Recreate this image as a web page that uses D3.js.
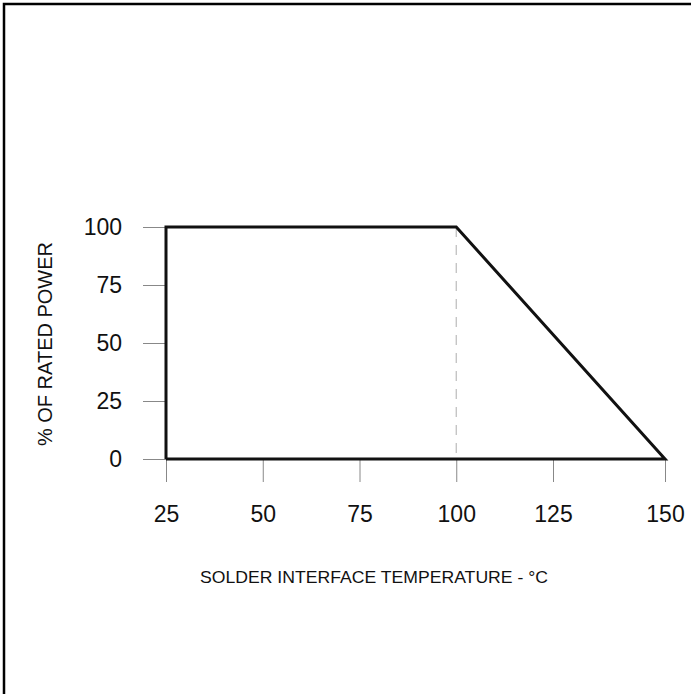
<!DOCTYPE html>
<html>
<head>
<meta charset="utf-8">
<script src="https://cdn.jsdelivr.net/npm/d3@7"></script>
<style>
  body { margin: 0; background: #fff; }
  text { font-family: Arial, "Liberation Sans", sans-serif; }
</style>
</head>
<body>
<div id="vis"></div>
<script>
// derating curve: temperature (°C) vs % of rated power
let temps = [25, 25, 100, 150, 25]
let power = [0, 100, 100, 0, 0]
let kneeTemp = 100
let xTicks = [25, 50, 75, 100, 125, 150]
let yTicks = [0, 25, 50, 75, 100]
let xTitle = 'SOLDER INTERFACE TEMPERATURE - °C'
let yTitle = '% OF RATED POWER'

let width = 691, height = 694

let svg = d3.select('#vis')
  .append('svg')
  .attr('width', width)
  .attr('height', height)

// outer frame (only top/left visible)
svg.append('rect')
  .attr('x', 4).attr('y', 4)
  .attr('width', 720).attr('height', 720)
  .attr('fill', 'none')
  .attr('stroke', '#000')
  .attr('stroke-width', 2.5)

// the original drawing stretches the last interval (125-150) a bit
let xScale = d3.scaleLinear().domain([25, 125, 150]).range([166, 553, 665])
let yScale = d3.scaleLinear().domain([0, 100]).range([459, 227])

// x ticks
let xAxis = svg.append('g')
  .attr('transform', `translate(0,${yScale(0)})`)
  .call(d3.axisBottom(xScale).tickValues(xTicks).tickSize(23).tickPadding(24).tickFormat(d3.format('d')))
xAxis.select('.domain').remove()
xAxis.selectAll('.tick line').attr('stroke', '#888').attr('stroke-width', 1)
xAxis.selectAll('.tick text')
  .attr('font-size', '23px')
  .attr('font-family', 'Arial, "Liberation Sans", sans-serif')
  .attr('fill', '#111')

// y ticks
let yAxis = svg.append('g')
  .attr('transform', `translate(${xScale(25)},0)`)
  .call(d3.axisLeft(yScale).tickValues(yTicks).tickSize(23).tickPadding(21).tickFormat(d3.format('d')))
yAxis.select('.domain').remove()
yAxis.selectAll('.tick line').attr('stroke', '#888').attr('stroke-width', 1)
yAxis.selectAll('.tick text')
  .attr('font-size', '23px')
  .attr('font-family', 'Arial, "Liberation Sans", sans-serif')
  .attr('fill', '#111')

// dashed knee line
svg.append('line')
  .attr('x1', xScale(kneeTemp)).attr('x2', xScale(kneeTemp))
  .attr('y1', yScale(100)).attr('y2', yScale(0))
  .attr('stroke', '#bbb')
  .attr('stroke-width', 1.2)
  .attr('stroke-dasharray', '10,8')

// derating polygon
let line = d3.line()
  .x((d, i) => xScale(temps[i]))
  .y((d, i) => yScale(power[i]))

svg.append('path')
  .datum(temps)
  .attr('d', line)
  .attr('fill', 'none')
  .attr('stroke', '#111')
  .attr('stroke-width', 3)
  .attr('stroke-linejoin', 'miter')

// axis titles
svg.append('text')
  .attr('x', 374).attr('y', 583)
  .attr('text-anchor', 'middle')
  .attr('font-size', '17px')
  .attr('textLength', 348)
  .attr('lengthAdjust', 'spacingAndGlyphs')
  .attr('fill', '#111')
  .text(xTitle)

svg.append('text')
  .attr('transform', 'translate(52,344) rotate(-90)')
  .attr('text-anchor', 'middle')
  .attr('font-size', '20px')
  .attr('fill', '#111')
  .text(yTitle)
</script>
</body>
</html>
